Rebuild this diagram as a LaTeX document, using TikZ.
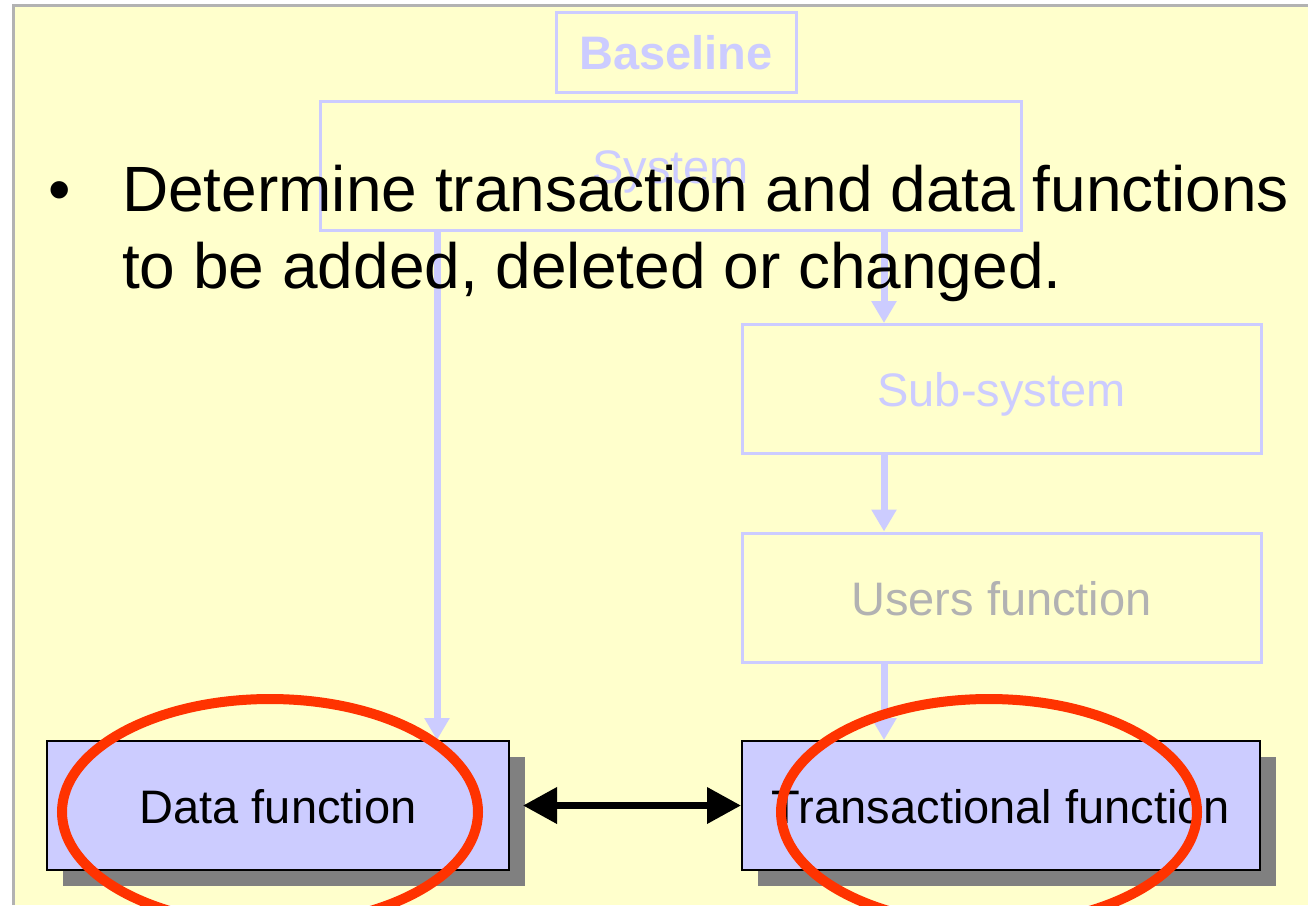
\documentclass[tikz,border=0pt]{standalone}
\usepackage{fontspec}
\setmainfont{Liberation Sans}
\usetikzlibrary{arrows.meta,shadows}
\definecolor{paper}{HTML}{FFFFCC}
\definecolor{lilac}{HTML}{CCCCFF}
\definecolor{frame}{HTML}{B2B2B2}
\definecolor{mark}{HTML}{FF3300}
\definecolor{dim}{HTML}{B2B2B2}
\tikzset{
  boxtext/.style={font=\fontsize{47}{56}\selectfont, text height=35pt, text depth=0pt},
  ghostbox/.style={draw=lilac, line width=3pt, rectangle, inner sep=0pt,
    minimum width=519pt, minimum height=129pt, boxtext, text=lilac},
  funcbox/.style={draw=black, line width=2pt, fill=lilac, rectangle, inner sep=0pt,
    minimum height=129pt, boxtext, text=black,
    drop shadow={shadow xshift=16pt, shadow yshift=-16pt, fill=gray!100, opacity=1}},
  flow/.style={draw=lilac, line width=7pt,
    -{Triangle[width=24pt,length=22pt]}},
  link/.style={draw=black, line width=7pt,
    {Triangle[width=35pt,length=34pt]}-{Triangle[width=35pt,length=34pt]}},
  ring/.style={draw=mark, line width=10pt},
  bodytext/.style={anchor=base west, inner sep=0pt,
    font=\fontsize{64}{77}\selectfont, text=black}
}
\begin{document}
\begin{tikzpicture}[x=1pt, y=-1pt]
\useasboundingbox (0,0) rectangle (1308,905);
% page and frame
\fill[white] (0,0) rectangle (1308,905);
\fill[paper] (13,5) rectangle (1308,905);
\draw[frame, line width=3pt] (13,905) -- (13,5) -- (1308,5);

% faded hierarchy
\node[draw=lilac, line width=3pt, inner sep=0pt, minimum width=240pt, minimum height=80pt,
  boxtext, font=\fontsize{47}{56}\selectfont\bfseries, text=lilac] (base) at (676,52) {Baseline};
\node[ghostbox, minimum width=701pt] (sys) at (670.5,165.5) {System};
\node[ghostbox] (sub) at (1001.5,389) {Sub-system};
\node[ghostbox, text=dim] (users) at (1001.5,597.5) {Users function};

% highlighted function boxes
\node[funcbox, minimum width=462pt] (data) at (278,805.5) {Data function};
\node[funcbox, minimum width=518pt] (trans) at (1001,805.5) {Transactional function};

% flow arrows
\coordinate (la) at (437,0);
\coordinate (ra) at (884,0);
\draw[flow] (sys.south -| la) -- (data.north -| la);
\draw[flow] (sys.south -| ra) -- (sub.north -| ra);
\draw[flow] (sub.south -| ra) -- (users.north -| ra);
\draw[flow] (users.south -| ra) -- (trans.north -| ra);
\draw[link] ([xshift=13pt]data.east) -- (trans.west);

% bullet text
\node[bodytext] (dot) at (48,211) {•};
\node[bodytext] (line1) at (122,211) {Determine transaction and data functions};
\node[bodytext] (line2) at (122,288) {to be added, deleted or changed.};

% red rings
\draw[ring] (270,812) ellipse [x radius=208, y radius=113];
\draw[ring] (989,812) ellipse [x radius=208, y radius=113];
\end{tikzpicture}
\end{document}
